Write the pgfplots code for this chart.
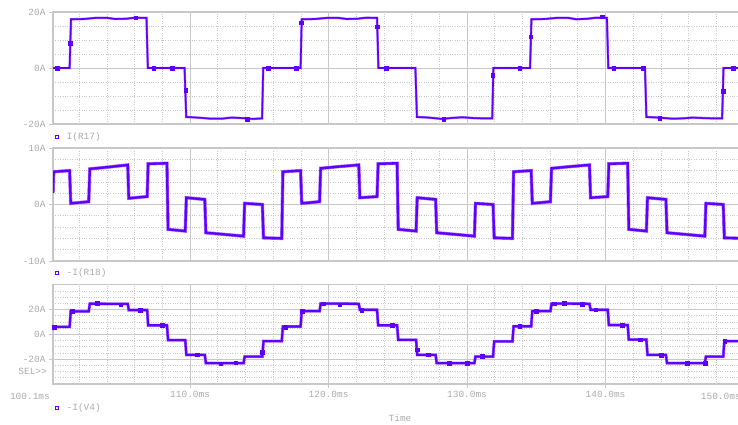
\documentclass[border=0pt]{standalone}
\usepackage{pgfplots}
\pgfplotsset{compat=1.18}
\usepackage{fontspec}
\setmainfont{Liberation Mono}
\definecolor{trc}{RGB}{95,0,255}
\definecolor{gridc}{RGB}{200,200,200}
\definecolor{txtc}{RGB}{170,170,170}
\newcommand{\lf}{\fontsize{9.5}{11}\selectfont}
\pgfplotsset{
 psp/.style={
  scale only axis, width=691bp, xmin=100.1, xmax=150,
  axis line style={gridc, line width=1.2bp},
  xtick={110,120,130,140}, minor xtick={102,104,...,148},
  grid=both,
  major grid style={gridc, line width=0.9bp},
  minor grid style={gridc, dotted, line width=0.7bp},
  tick style={gridc, line width=0.9bp},
  major tick length=4bp, minor tick length=0bp,
  tick align=outside,
  ytick pos=left, xtick pos=bottom,
  yticklabel style={font=\lf, text=txtc},
  xticklabel style={font=\lf, text=txtc},
  clip=true,
 },
 tr/.style={trc, line width=1.6bp, mark=none},
 halo/.style={trc!55, line width=2.8bp, mark=none},
 mk/.style={trc, only marks, mark=square*, mark size=1.8bp, mark options={fill=trc,draw=trc}},
}
\begin{document}
\begin{tikzpicture}
\useasboundingbox (0,0) rectangle (738bp,425bp);
% ---------------- panel 1 : I(R17)
\pgfplotstableread{
t v
100.1 0
101.3 0
101.4 17.4
102.3 17.5
103.2 17.9
104.0 17.9
104.6 17.5
105.4 17.6
106.0 17.95
106.85 17.9
106.95 0
109.6 0
109.72 -17.5
110.5 -17.7
111.5 -18.1
112.3 -18.1
113.0 -17.7
113.8 -17.9
114.5 -18.2
115.2 -18.0
115.28 0
117.98 0
118.06 17.4
119.0 17.5
119.9 17.9
120.7 17.9
121.3 17.5
122.1 17.6
122.7 17.95
123.5 17.9
123.6 0
126.27 0
126.38 -17.5
127.2 -17.7
128.2 -18.2
129.0 -17.8
129.7 -17.6
130.5 -17.9
131.2 -18.0
131.82 -18.0
131.9 0
134.55 0
134.65 17.4
135.6 17.5
136.5 17.9
137.3 17.9
137.9 17.4
138.7 17.6
139.3 17.95
140.1 17.9
140.2 0
142.85 0
142.95 -17.5
143.8 -17.7
144.8 -18.1
145.6 -18.0
146.3 -17.7
147.1 -17.9
147.8 -18.0
148.42 -18.0
148.52 0
150 0
}\rseventeen
\begin{axis}[psp, at={(53bp,301bp)}, anchor=south west, height=112bp,
  ymin=-20, ymax=20, ytick={-20,0,20}, yticklabels={-20A,0A,20A},
  minor ytick={-15,-10,-5,5,10,15}, xticklabels={}, xtick style={draw=none}]
\addplot[halo, line width=2.4bp] table[x=t,y=v] {\rseventeen};
\addplot[tr] table[x=t,y=v] {\rseventeen};
\addplot[mk] coordinates {
(100.4,0) (101.35,8.8) (106.06,17.9) (107.38,0) (108.7,0) (109.67,-7.9) (114.14,-18.3) (115.63,0) (117.67,0) (118.03,16.2)
(123.53,14.75) (124.18,0) (128.3,-18.2) (131.85,-2.6) (133.8,0) (134.6,11.2) (139.76,18.3) (140.6,0) (142.7,0) (143.9,-17.9) (148.48,-8.2) (149.2,0)
};
\end{axis}
% ---------------- panel 2 : -I(R18)
\pgfplotstableread{
t v
100.1 2.0
100.15 5.8
101.3 6.0
101.38 0.2
102.68 0.5
102.76 6.3
104.0 6.6
105.5 7.0
105.57 1.1
106.9 1.4
106.97 7.2
108.33 7.3
108.41 -4.4
109.65 -4.7
109.73 1.2
111.06 0.9
111.14 -5.0
112.5 -5.3
113.86 -5.6
113.94 0.2
115.22 0.0
115.3 -5.9
116.62 -6.0
116.7 5.8
117.98 6.0
118.06 0.2
119.35 0.5
119.43 6.4
120.7 6.7
122.18 7.0
122.26 1.2
123.5 1.4
123.58 7.2
124.95 7.3
125.03 -4.4
126.32 -4.7
126.4 1.2
127.73 0.9
127.81 -5.0
129.2 -5.3
130.53 -5.6
130.61 0.2
131.88 0.0
131.96 -5.9
133.28 -6.0
133.36 5.8
134.63 6.0
134.71 0.2
136.02 0.5
136.1 6.4
137.4 6.7
138.84 7.0
138.92 1.2
140.16 1.4
140.24 7.2
141.6 7.3
141.68 -4.4
142.95 -4.7
143.03 1.2
144.36 0.9
144.44 -5.0
145.8 -5.3
147.17 -5.6
147.25 0.2
148.5 0.0
148.58 -5.9
150 -6.0
}\reighteen
\begin{axis}[psp, at={(53bp,164bp)}, anchor=south west, height=113bp,
  ymin=-10, ymax=10, ytick={-10,0,10}, yticklabels={-10A,0A,10A},
  minor ytick={-8,-6,-4,-2,2,4,6,8}, xticklabels={}, xtick style={draw=none}]
\addplot[halo, line width=3.4bp] table[x=t,y=v] {\reighteen};
\addplot[tr, line width=2.3bp] table[x=t,y=v] {\reighteen};
\end{axis}
% ---------------- panel 3 : -I(V4)
\pgfplotstableread{
t v
100.1 3.5
100.15 6.0
101.3 6.0
101.38 18.5
102.68 18.5
102.76 24.7
105.5 24.5
105.57 19.6
106.9 19.6
106.97 7.3
108.33 7.3
108.41 -4.6
109.65 -4.6
109.73 -16.5
111.06 -16.5
111.14 -23.2
113.86 -23.2
113.94 -17.9
115.22 -17.9
115.3 -5.5
116.62 -5.5
116.7 6.3
117.98 6.3
118.06 18.7
119.35 18.7
119.43 24.8
122.18 24.6
122.26 19.8
123.5 19.8
123.58 7.3
124.95 7.3
125.03 -4.5
126.32 -4.5
126.4 -16.5
127.73 -16.5
127.81 -23.2
130.53 -23.2
130.61 -17.9
131.88 -17.9
131.96 -5.7
133.28 -5.7
133.36 6.5
134.63 6.5
134.71 18.7
136.02 18.7
136.1 24.8
138.84 24.6
138.92 19.8
140.16 19.8
140.24 7.5
141.6 7.5
141.68 -4.3
142.95 -4.3
143.03 -16.5
144.36 -16.5
144.44 -23.2
147.17 -23.2
147.25 -17.9
148.5 -17.9
148.58 -5.5
150 -5.5
}\vfour
\begin{axis}[psp, at={(53bp,41bp)}, anchor=south west, height=99.3bp,
  ymin=-40, ymax=40, ytick={-20,0,20}, yticklabels={-20A,0A,20A},
  minor ytick={-35,-30,-25,-15,-10,-5,5,10,15,25,30,35},
  xticklabels={110.0ms,120.0ms,130.0ms,140.0ms}]
\addplot[halo, line width=3.0bp] table[x=t,y=v] {\vfour};
\addplot[tr, line width=2.1bp] table[x=t,y=v] {\vfour};
\addplot[mk] coordinates {
(100.2,6.0) (101.5,18.6) (103.3,25.2) (105.0,24.0) (106.4,19.5) (108.0,7.3) (110.5,-16.5) (112.2,-23.6) (113.3,-22.9) (115.2,-14.5)
(116.9,6.0) (118.1,18.5) (119.6,24.8) (120.8,24.0) (122.4,19.5) (124.6,7.3) (126.4,-12.5) (127.2,-16.5) (128.7,-23.3) (130.0,-23.2)
(131.1,-17.6) (133.8,6.5) (135.0,18.7) (136.3,24.8) (137.0,25.0) (138.3,24.5) (139.3,19.8) (141.2,7.5) (142.5,-4.3) (144.0,-16.8)
(145.9,-23.3) (147.2,-23.3) (148.6,-5.5)
};
\end{axis}
% ---------------- texts
\begin{scope}[every node/.style={font=\lf, text=txtc, inner sep=0pt}]
\node[anchor=east] at (50bp,28.3bp) {100.1ms};
\node[anchor=west] at (700.7bp,28.3bp) {150.0ms};
\node[anchor=east] at (47bp,53.3bp) {SEL{>}{>}};
\node[anchor=west] at (66.5bp,288.3bp) {I(R17)};
\node[anchor=west] at (66.5bp,152.3bp) {-I(R18)};
\node[anchor=west] at (66.5bp,17.3bp) {-I(V4)};
\node at (400bp,7bp) {Time};
\end{scope}
\draw[trc, line width=0.8bp] (55.3bp,286.6bp) rectangle ++(3.4bp,3.4bp);
\draw[trc, line width=0.8bp] (55.3bp,150.6bp) rectangle ++(3.4bp,3.4bp);
\draw[trc, line width=0.8bp] (55.3bp,15.6bp) rectangle ++(3.4bp,3.4bp);
\end{tikzpicture}
\end{document}
